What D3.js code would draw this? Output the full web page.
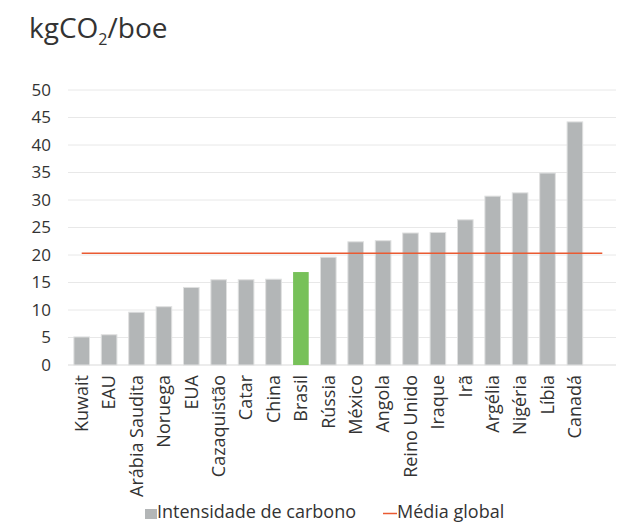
<!DOCTYPE html>
<html>
<head>
<meta charset="utf-8">
<script src="https://cdn.jsdelivr.net/npm/d3@7"></script>
<style>
  html, body { margin: 0; padding: 0; background: #fff; }
  svg { display: block; font-family: "Open Sans", "Noto Sans", sans-serif; }
</style>
</head>
<body>
<svg id="chart" width="618" height="523"></svg>
<script>
// Carbon intensity of oil production by country (kgCO2/boe)
const countries = ["Kuwait", "EAU", "Arábia Saudita", "Noruega", "EUA", "Cazaquistão", "Catar",
  "China", "Brasil", "Rússia", "México", "Angola", "Reino Unido", "Iraque", "Irã",
  "Argélia", "Nigéria", "Líbia", "Canadá"];
const intensity = [5.1, 5.5, 9.6, 10.6, 14.1, 15.5, 15.5, 15.6, 16.9, 19.6, 22.4, 22.6,
  24.0, 24.1, 26.4, 30.7, 31.3, 34.9, 44.2];
const globalAverage = 20.3;
const highlight = "Brasil";
const yTicks = [0, 5, 10, 15, 20, 25, 30, 35, 40, 45, 50];
const legendLabels = ["Intensidade de carbono", "Média global"];

const colors = { bar: "#b3b6b7", barEdge: "#dfe0e0", highlight: "#77c159", avg: "#ea5a32",
  grid: "#e8e8e8", text: "#333333" };

const svg = d3.select("#chart");
const plot = { left: 68, right: 616, top: 90, bottom: 365 };

// One trailing empty slot so the average line runs past the last bar
const slots = countries.concat([""]);
const x = d3.scaleBand().domain(slots).range([plot.left, plot.right]).paddingInner(0.43).paddingOuter(0.215);
const y = d3.scaleLinear().domain([0, 50]).range([plot.bottom, plot.top]);

// Title with subscript
const title = svg.append("text").attr("x", 29).attr("y", 38)
  .attr("fill", colors.text).attr("font-size", 28);
title.append("tspan").text("kgCO");
title.append("tspan").attr("font-size", 16).attr("dy", 7).text("2");
title.append("tspan").attr("dy", -7).text("/boe");

// Gridlines
svg.append("g").selectAll("line").data(yTicks).join("line")
  .attr("x1", plot.left).attr("x2", plot.right)
  .attr("y1", d => y(d)).attr("y2", d => y(d))
  .attr("stroke", d => d === 0 ? "#d9d9d9" : colors.grid).attr("stroke-width", 1);

// Y axis labels
const yAxis = svg.append("g").attr("transform", `translate(${plot.left},0)`)
  .call(d3.axisLeft(y).tickValues(yTicks).tickSize(0).tickPadding(17));
yAxis.select(".domain").remove();
yAxis.selectAll("text").attr("font-size", 17).attr("fill", colors.text)
  .attr("font-family", "'Open Sans', sans-serif");

// Bars
svg.append("g").selectAll("rect").data(countries).join("rect")
  .attr("x", d => x(d))
  .attr("width", x.bandwidth())
  .attr("y", (d, i) => y(intensity[i]))
  .attr("height", (d, i) => y(0) - y(intensity[i]))
  .attr("fill", d => d === highlight ? colors.highlight : colors.bar)
  .attr("stroke", d => d === highlight ? "none" : colors.barEdge)
  .attr("stroke-width", 1);

// Global average line, from first to last slot centre
const cx = d => x(d) + x.bandwidth() / 2;
svg.append("line")
  .attr("x1", cx(slots[0])).attr("x2", cx(slots[slots.length - 1]))
  .attr("y1", y(globalAverage)).attr("y2", y(globalAverage))
  .attr("stroke", colors.avg).attr("stroke-width", 1.5);

// Category labels, rotated
const xAxis = svg.append("g").attr("transform", `translate(0,${plot.bottom})`)
  .call(d3.axisBottom(x).tickValues(countries).tickSize(0));
xAxis.select(".domain").remove();
xAxis.selectAll("text")
  .attr("font-size", 18).attr("fill", colors.text)
  .attr("font-family", "'Open Sans', sans-serif")
  .attr("transform", "rotate(-90)")
  .attr("text-anchor", "end")
  .attr("x", -10).attr("y", 0).attr("dy", "0.35em");

// Legend
const lg = svg.append("g").attr("font-size", 18).attr("fill", colors.text);
lg.append("rect").attr("x", 145).attr("y", 509).attr("width", 12).attr("height", 10).attr("fill", colors.bar);
lg.append("text").attr("x", 157).attr("y", 518).text(legendLabels[0]);
lg.append("line").attr("x1", 383).attr("x2", 397).attr("y1", 513.5).attr("y2", 513.5)
  .attr("stroke", colors.avg).attr("stroke-width", 1.5);
lg.append("text").attr("x", 397).attr("y", 518).text(legendLabels[1]);
</script>
</body>
</html>
